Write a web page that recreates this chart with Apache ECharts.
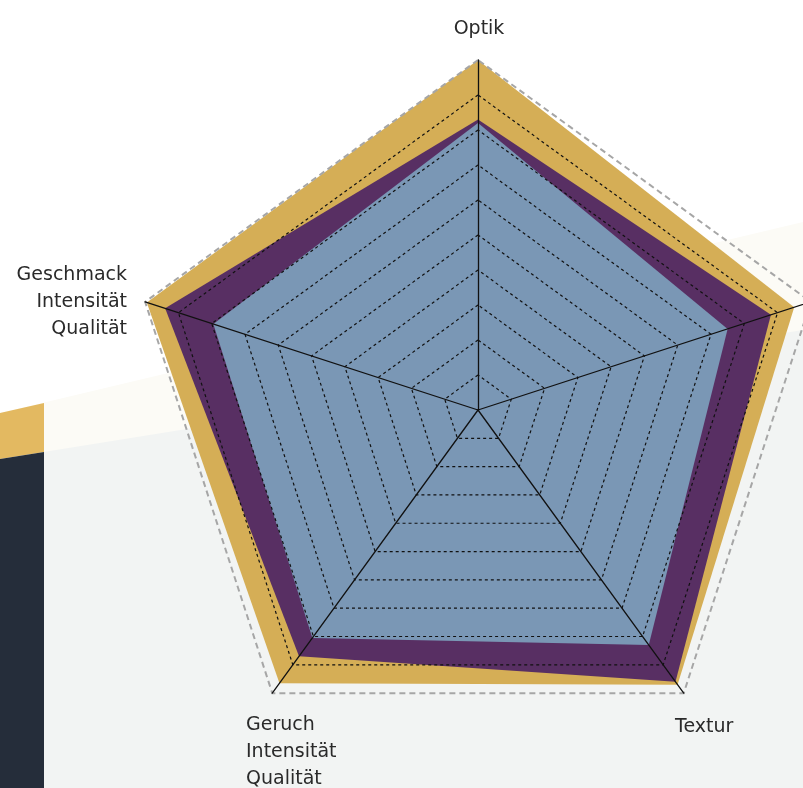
<!DOCTYPE html>
<html>
<head>
<meta charset="utf-8">
<script src="https://cdn.jsdelivr.net/npm/echarts@6/dist/echarts.min.js"></script>
<style>html,body{margin:0;padding:0;background:#fff;}#c{width:803px;height:788px;}</style>
</head>
<body>
<div id="c"></div>
<script>
// Indicators (counterclockwise from top)
const indicators = ['Optik', 'Geschmack\nIntensität\nQualität', 'Geruch\nIntensität\nQualität', 'Textur', 'Gesamteindruck'];
const maxValue = 10;
const seriesNames = ['Serie A', 'Serie B', 'Serie C'];
const valuesA = [10, 9.95, 9.65, 9.7, 9.5];
const valuesB = [8.3, 9.4, 8.7, 9.6, 8.8];
const valuesC = [8.2, 7.95, 8.05, 8.3, 7.5];
const colors = ['#D5AE56', '#582F63', '#7A97B5'];

const chart = echarts.init(document.getElementById('c'), null, {renderer: 'canvas'});
const ind = indicators.map(n => ({name: n, min: 0, max: maxValue}));
const innerColors = [];
for (let i = 0; i < 10; i++) innerColors.push('#111');
innerColors.push('rgba(0,0,0,0)');
const font = "'DejaVu Sans', sans-serif";
function lbl(text, x, y, align) {
  return {type: 'text', z: 10, silent: true, x: x, y: y,
    style: {text: text, textAlign: align, textVerticalAlign: 'top', fill: '#2a2a2a', font: '19px ' + font, lineHeight: 27}};
}

chart.setOption({
  animation: false,
  graphic: [
    {type: 'polygon', z: -10, silent: true, shape: {points: [[0, 413], [803, 222], [803, 788], [0, 788]]}, style: {fill: '#FCFBF6'}},
    {type: 'polygon', z: -9, silent: true, shape: {points: [[0, 459], [803, 330], [803, 788], [0, 788]]}, style: {fill: '#F2F4F3'}},
    {type: 'polygon', z: -8, silent: true, shape: {points: [[0, 413], [44, 403], [44, 452], [0, 459]]}, style: {fill: '#E3B961'}},
    {type: 'polygon', z: -8, silent: true, shape: {points: [[0, 459], [44, 452], [44, 788], [0, 788]]}, style: {fill: '#252D3A'}},
    lbl('Optik', 479, 16, 'center'),
    lbl('Geschmack\nIntensität\nQualität', 127, 262, 'right'),
    lbl('Geruch\nIntensität\nQualität', 246, 712, 'left'),
    lbl('Textur', 675, 714, 'left')
  ],
  radar: [
    {
      z: 5,
      center: [478, 410],
      radius: 350,
      startAngle: 90,
      splitNumber: 10,
      shape: 'polygon',
      indicator: ind,
      axisName: {show: false},
      axisLine: {show: true, lineStyle: {color: '#111', width: 1.3}},
      splitLine: {show: true, lineStyle: {color: innerColors, width: 1.2, type: [3, 3]}},
      splitArea: {show: false}
    },
    {
      z: 4,
      center: [478, 410],
      radius: 350,
      startAngle: 90,
      splitNumber: 1,
      shape: 'polygon',
      indicator: ind,
      axisName: {show: false},
      axisLine: {show: false},
      splitLine: {show: true, lineStyle: {color: ['rgba(0,0,0,0)', '#A6A6A6'], width: 2, type: [6, 4]}},
      splitArea: {show: false}
    }
  ],
  series: [{
    type: 'radar',
    radarIndex: 0,
    z: 2,
    symbol: 'none',
    silent: true,
    data: [
      {name: seriesNames[0], value: valuesA, areaStyle: {color: colors[0], opacity: 1}, lineStyle: {width: 0, color: colors[0]}},
      {name: seriesNames[1], value: valuesB, areaStyle: {color: colors[1], opacity: 1}, lineStyle: {width: 0, color: colors[1]}},
      {name: seriesNames[2], value: valuesC, areaStyle: {color: colors[2], opacity: 1}, lineStyle: {width: 0, color: colors[2]}}
    ]
  }]
});
</script>
</body>
</html>
